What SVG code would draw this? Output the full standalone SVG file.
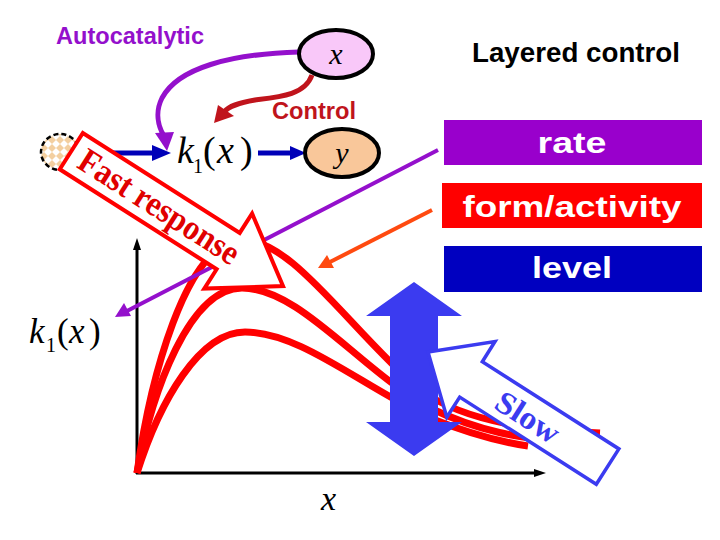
<svg xmlns="http://www.w3.org/2000/svg" width="720" height="540" viewBox="0 0 720 540">
<defs>
<style>
.sans{font-family:"Liberation Sans",Arial,sans-serif;font-weight:bold}
.serif{font-family:"Liberation Serif","Times New Roman",serif}
.it{font-style:italic}
.curve{fill:none;stroke:#FF0000;stroke-width:7}
.box-t{fill:#FFFFFF;font-size:30px;text-anchor:middle}
</style>
<pattern id="chk" width="8" height="8" patternUnits="userSpaceOnUse">
<rect width="8" height="8" fill="#FFFFFF"/>
<polygon points="4,0 8,4 4,8 0,4" fill="#F3CFA0"/>
</pattern>
</defs>
<rect width="720" height="540" fill="#FFFFFF"/>

<g id="title-autocatalytic"><text class="sans" x="56" y="44" font-size="23" fill="#9410CC" textLength="148" lengthAdjust="spacingAndGlyphs">Autocatalytic</text></g>
<g id="title-layered"><text class="sans" x="472" y="62" font-size="27" fill="#000000" textLength="208" lengthAdjust="spacingAndGlyphs">Layered control</text></g>
<g id="label-control"><text class="sans" x="272" y="119" font-size="23" fill="#C0141C" textLength="84" lengthAdjust="spacingAndGlyphs">Control</text></g>

<g id="axes" stroke="#000000" stroke-width="3" fill="#000000">
<line x1="137" y1="474" x2="137" y2="248"/>
<polygon points="133,250 137,238 141,250" stroke="none"/>
<line x1="136" y1="473" x2="536" y2="473"/>
<polygon points="534,469 546,473 534,477" stroke="none"/>
</g>

<g id="curves">
<path class="curve" d="M137,473 C150,380 185,245 240,240 C290,236 350,330 420,390 C470,425 540,430 600,433"/>
<path class="curve" d="M137,473 C152,390 190,288 242,288 C300,288 360,370 430,408 C480,432 520,438 565,442"/>
<path class="curve" d="M137,473 C160,400 200,332 245,332 C300,332 360,385 430,418 C470,434 500,442 528,446"/>
</g>

<g id="node-source">
<ellipse cx="60" cy="152" rx="19" ry="18" fill="url(#chk)" stroke="#000000" stroke-width="2.5" stroke-dasharray="5,3"/>
</g>

<g id="connectors">
<line x1="80" y1="153" x2="155" y2="153" stroke="#0000B8" stroke-width="5"/>
<polygon points="152,145 171,153 152,161" fill="#0000B8"/>
<line x1="258" y1="153" x2="292" y2="153" stroke="#0000B8" stroke-width="5"/>
<polygon points="290,146 306,153 290,160" fill="#0000B8"/>
<path d="M299,52 C230,54 178,68 162,98 C155,112 158,126 164,136" fill="none" stroke="#9410CC" stroke-width="5"/>
<polygon points="155,133 174,132 167,151" fill="#9410CC"/>
<path d="M312,75 C305,95 280,97 255,100 C238,103 229,106 224,112" fill="none" stroke="#C0141C" stroke-width="5"/>
<polygon points="214,123 218,105 234,116" fill="#C0141C"/>
<line x1="438" y1="150" x2="127" y2="311" stroke="#9410CC" stroke-width="4"/>
<polygon points="115,317 124,303 131,316" fill="#9410CC"/>
<line x1="432" y1="210" x2="330" y2="262" stroke="#FF4A10" stroke-width="4"/>
<polygon points="318,268 327,255 334,268" fill="#FF4A10"/>
</g>

<g id="node-x">
<ellipse cx="336" cy="54" rx="37" ry="24" fill="#F9C8F9" stroke="#000000" stroke-width="4"/>
<text class="serif it" x="336" y="64" font-size="30" text-anchor="middle">x</text>
</g>
<g id="node-y">
<ellipse cx="342" cy="153" rx="37" ry="24" fill="#F9C79A" stroke="#000000" stroke-width="4"/>
<text class="serif it" x="342" y="163" font-size="30" text-anchor="middle">y</text>
</g>

<g id="node-k1">
<text class="serif" font-size="38" y="163"><tspan class="it" x="177">k</tspan><tspan x="193" y="173" font-size="20">1</tspan><tspan x="203" y="163">(</tspan><tspan class="it" x="217">x</tspan><tspan x="240">)</tspan></text>
</g>
<g id="label-k1-axis">
<text class="serif" font-size="35" y="343"><tspan class="it" x="29">k</tspan><tspan x="46" y="352" font-size="20">1</tspan><tspan x="57" y="343">(</tspan><tspan class="it" x="69">x</tspan><tspan x="89">)</tspan></text>
</g>
<g id="label-x-axis"><text class="serif it" x="321" y="510" font-size="34">x</text></g>

<g id="box-rate">
<rect x="444" y="120" width="258" height="45" fill="#9900CC"/>
<text class="sans box-t" x="572" y="153" textLength="69" lengthAdjust="spacingAndGlyphs">rate</text>
</g>
<g id="box-form">
<rect x="442" y="183" width="260" height="45" fill="#FF0000"/>
<text class="sans box-t" x="572" y="217" textLength="219" lengthAdjust="spacingAndGlyphs">form/activity</text>
</g>
<g id="box-level">
<rect x="444" y="246" width="258" height="46" fill="#0000C0"/>
<text class="sans box-t" x="572" y="278" textLength="80" lengthAdjust="spacingAndGlyphs">level</text>
</g>

<g id="double-arrow">
<polygon points="414,282 462,316 438,316 438,422 462,422 414,456 366,422 390,422 390,316 366,316" fill="#3B3BF0"/>
</g>

<g id="slow-arrow">
<polygon points="428,352 495,341.5 482.3,361.7 618.9,448.9 596.3,484.3 459.7,397.1 446.8,417.3" fill="#FFFFFF" stroke="#3B3BF0" stroke-width="3.5" stroke-linejoin="miter"/>
<text class="serif" transform="translate(528,417) rotate(32.5)" x="0" y="11" font-size="32" font-weight="bold" fill="#3B3BF0" text-anchor="middle" textLength="70" lengthAdjust="spacingAndGlyphs">Slow</text>
</g>

<g id="fast-arrow" transform="translate(283,286) rotate(32.5)">
<polygon points="0,0 -65,-44.5 -65,-21.5 -251,-21.5 -251,21.5 -65,21.5 -65,44.5" fill="#FFFFFF" stroke="#FF0000" stroke-width="4"/>
<text class="serif" x="-147" y="11" font-size="35" font-weight="bold" fill="#E00000" text-anchor="middle" textLength="184" lengthAdjust="spacingAndGlyphs">Fast response</text>
</g>
</svg>
